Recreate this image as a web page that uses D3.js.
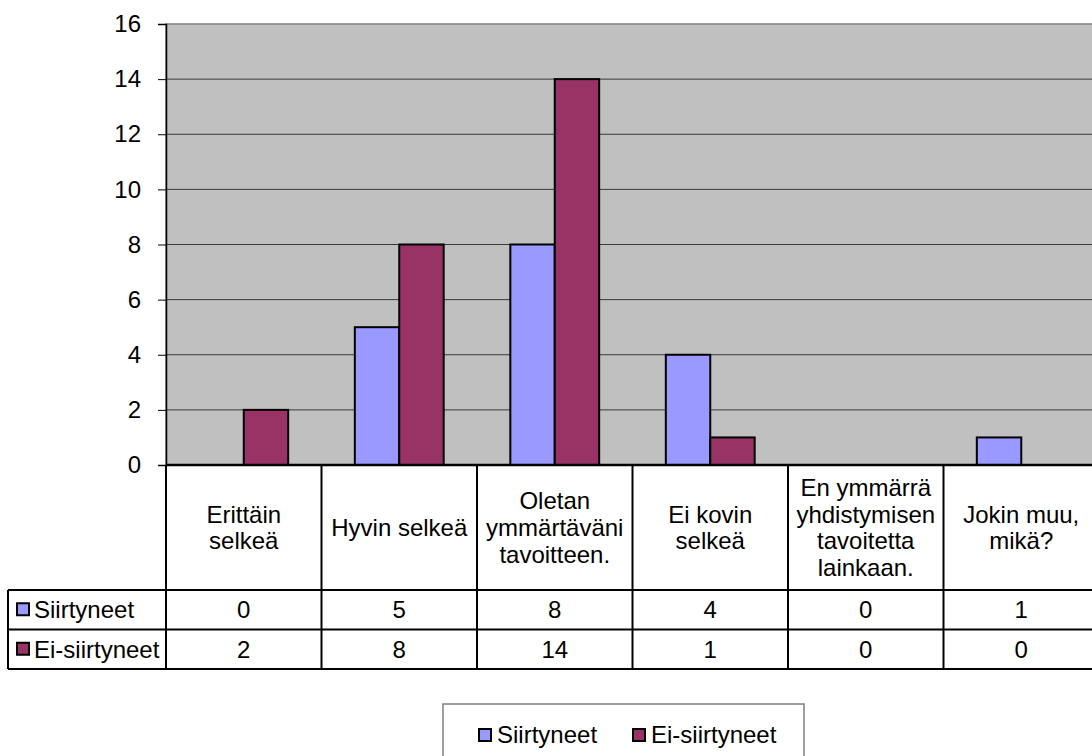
<!DOCTYPE html>
<html lang="fi">
<head>
    <meta charset="UTF-8">
    <title>Siirtyneet / Ei-siirtyneet</title>
    <script src="https://d3js.org/d3.v7.min.js"></script>
    <style>
        html, body {
            margin: 0;
            padding: 0;
            background: #fff;
            overflow: hidden;
        }
        svg text {
            font-family: "Liberation Sans", Arial, sans-serif;
            font-size: 24px;
            fill: #000;
        }
    </style>
</head>
<body>
    <svg id="chart" width="1092" height="756"></svg>

    <script>
        // Data
        const categories = ["Erittäin selkeä", "Hyvin selkeä", "Oletan ymmärtäväni tavoitteen.",
            "Ei kovin selkeä", "En ymmärrä yhdistymisen tavoitetta lainkaan.", "Jokin muu, mikä?"];
        const seriesNames = ["Siirtyneet", "Ei-siirtyneet"];
        const siirtyneet = [0, 5, 8, 4, 0, 1];
        const eiSiirtyneet = [2, 8, 14, 1, 0, 0];
        const yTicks = [0, 2, 4, 6, 8, 10, 12, 14, 16];

        const seriesValues = [siirtyneet, eiSiirtyneet];
        const colors = ["#9999FF", "#993366"];

        // Layout
        const plotLeft = 166, plotRight = 1099, plotTop = 24, plotBottom = 465;
        const headerBottom = 590, rowH = 39.5, tableLeft = 8;

        const svg = d3.select("#chart");

        const x = d3.scaleBand()
            .domain(categories)
            .range([plotLeft, plotRight])
            .padding(0);

        const xInner = d3.scaleBand()
            .domain(seriesNames)
            .range([0, x.bandwidth()])
            .paddingInner(0)
            .paddingOuter(0.75);

        const y = d3.scaleLinear()
            .domain([0, 16])
            .range([plotBottom, plotTop]);

        // Plot area
        svg.append("rect")
            .attr("x", plotLeft)
            .attr("y", plotTop)
            .attr("width", plotRight - plotLeft)
            .attr("height", plotBottom - plotTop)
            .attr("fill", "#C0C0C0")
            .attr("stroke", "#808080")
            .attr("stroke-width", 1.5);

        // Gridlines
        svg.append("g")
            .selectAll("line")
            .data(yTicks.filter(d => d > 0 && d < 16))
            .enter()
            .append("line")
            .attr("x1", plotLeft)
            .attr("x2", plotRight)
            .attr("y1", d => y(d))
            .attr("y2", d => y(d))
            .attr("stroke", "#3a3a3a")
            .attr("stroke-width", 1);

        // Y axis
        const yAxis = svg.append("g")
            .attr("transform", `translate(${plotLeft},0)`)
            .call(d3.axisLeft(y).tickValues(yTicks).tickSize(8).tickPadding(17));
        yAxis.select(".domain").attr("stroke", "#000").attr("stroke-width", 1.5);
        yAxis.selectAll(".tick line").attr("stroke", "#000");
        yAxis.selectAll("text")
            .style("font-family", "'Liberation Sans', Arial, sans-serif")
            .style("font-size", "24px")
            .attr("fill", "#000");

        // Bars
        const groups = svg.append("g")
            .selectAll("g")
            .data(seriesNames)
            .enter()
            .append("g")
            .attr("fill", (d, i) => colors[i]);

        groups.selectAll("rect")
            .data((s, si) => categories.map((c, ci) => ({ s, c, v: seriesValues[si][ci] })))
            .enter()
            .filter(d => d.v > 0)
            .append("rect")
            .attr("x", d => x(d.c) + xInner(d.s))
            .attr("y", d => y(d.v))
            .attr("width", xInner.bandwidth())
            .attr("height", d => y(0) - y(d.v))
            .attr("stroke", "#000")
            .attr("stroke-width", 2);

        // Data table
        const table = svg.append("g");
        const tableBottom = headerBottom + rowH * seriesNames.length;

        // header row frame and column lines
        table.append("line")
            .attr("x1", plotLeft).attr("x2", plotRight)
            .attr("y1", plotBottom).attr("y2", plotBottom)
            .attr("stroke", "#000").attr("stroke-width", 2.5);

        categories.forEach(c => {
            table.append("line")
                .attr("x1", x(c)).attr("x2", x(c))
                .attr("y1", plotBottom).attr("y2", tableBottom)
                .attr("stroke", "#000").attr("stroke-width", 2);
        });
        table.append("line")
            .attr("x1", plotRight).attr("x2", plotRight)
            .attr("y1", plotBottom).attr("y2", tableBottom)
            .attr("stroke", "#000").attr("stroke-width", 2);

        // row lines
        d3.range(seriesNames.length + 1).forEach(i => {
            const yy = headerBottom + i * rowH;
            table.append("line")
                .attr("x1", tableLeft).attr("x2", plotRight)
                .attr("y1", yy).attr("y2", yy)
                .attr("stroke", "#000").attr("stroke-width", 2);
        });
        table.append("line")
            .attr("x1", tableLeft).attr("x2", tableLeft)
            .attr("y1", headerBottom).attr("y2", tableBottom)
            .attr("stroke", "#000").attr("stroke-width", 2);

        // category labels, wrapped
        const lineH = 26.6;
        const maxW = 146;
        categories.forEach(c => {
            const t = table.append("text")
                .attr("text-anchor", "middle")
                .attr("x", x(c) + x.bandwidth() / 2);
            const words = c.split(" ");
            const lines = [];
            let cur = [];
            words.forEach(w => {
                cur.push(w);
                t.text(cur.join(" "));
                if (t.node().getComputedTextLength() > maxW && cur.length > 1) {
                    cur.pop();
                    lines.push(cur.join(" "));
                    cur = [w];
                }
            });
            lines.push(cur.join(" "));
            t.text(null);
            const midY = (plotBottom + headerBottom) / 2;
            lines.forEach((ln, i) => {
                t.append("tspan")
                    .attr("x", x(c) + x.bandwidth() / 2)
                    .attr("y", midY + (i - (lines.length - 1) / 2) * lineH)
                    .attr("dy", "0.35em")
                    .text(ln);
            });
        });

        // data rows
        seriesNames.forEach((s, si) => {
            const cy = headerBottom + si * rowH + rowH / 2;
            table.append("rect")
                .attr("x", 17).attr("y", cy - 6.5)
                .attr("width", 12).attr("height", 12)
                .attr("fill", colors[si])
                .attr("stroke", "#000").attr("stroke-width", 2);
            table.append("text")
                .attr("x", 34).attr("y", cy)
                .attr("dy", "0.35em")
                .text(s);
            categories.forEach((c, ci) => {
                table.append("text")
                    .attr("x", x(c) + x.bandwidth() / 2)
                    .attr("y", cy)
                    .attr("dy", "0.35em")
                    .attr("text-anchor", "middle")
                    .text(seriesValues[si][ci]);
            });
        });

        // Legend
        const legend = svg.append("g");
        legend.append("rect")
            .attr("x", 443).attr("y", 704)
            .attr("width", 361).attr("height", 62)
            .attr("fill", "#fff")
            .attr("stroke", "#808080")
            .attr("stroke-width", 1.5);

        const legendX = [479, 633];
        seriesNames.forEach((s, si) => {
            legend.append("rect")
                .attr("x", legendX[si]).attr("y", 729)
                .attr("width", 12).attr("height", 12)
                .attr("fill", colors[si])
                .attr("stroke", "#000").attr("stroke-width", 2);
            legend.append("text")
                .attr("x", legendX[si] + 18).attr("y", 735)
                .attr("dy", "0.35em")
                .text(s);
        });
    </script>
</body>
</html>
